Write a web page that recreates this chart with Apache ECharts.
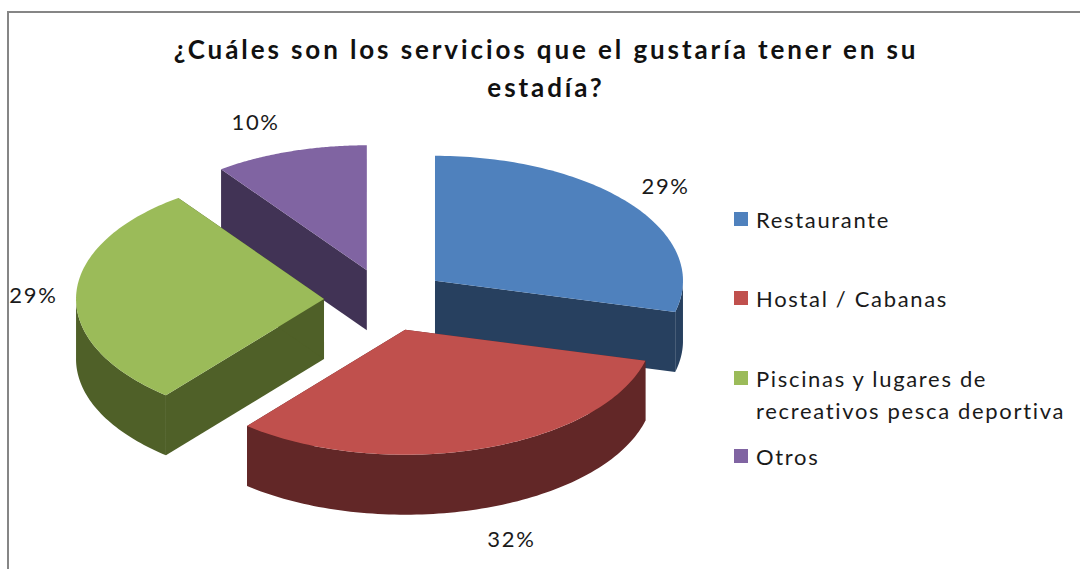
<!DOCTYPE html>
<html><head><meta charset="utf-8">
<style>html,body{margin:0;padding:0;background:#fff}#c{width:1080px;height:569px;letter-spacing:1.67px}
#c text[style*="bold"]{letter-spacing:2.9px}</style>
<script src="https://cdn.jsdelivr.net/npm/echarts@6/dist/echarts.min.js"></script>
</head><body><div id="c"></div>
<script>
const titleText = '¿Cuáles son los servicios que el gustaría tener en su\nestadía?';
const categories = ['Restaurante', 'Hostal / Cabanas', 'Piscinas y lugares de\nrecreativos pesca deportiva', 'Otros'];
const values = [29, 32, 29, 10];
const topColors = ['#4f81bd', '#c0504d', '#9bbb59', '#8064a2'];
const sideColors = ['#27405f', '#622727', '#4f6028', '#413355'];
const drawOrder = [3, 2, 0, 1];
const legendCenters = [220, 299, 379, 457];
const labelNudgeX = [-5, 2, 2, -7];

const CX = 386, CY = 300, RX = 248, RY = 125, DEPTH = 60, EXPLODE = 0.25;
const total = values.reduce((a, b) => a + b, 0);
const font = 'Lato, Carlito, "Open Sans", sans-serif';

function sliceRender(idx) {
  return function (params, api) {
    const before = values.slice(0, idx).reduce((a, b) => a + b, 0);
    const a0 = before / total * 2 * Math.PI;
    const a1 = (before + api.value(0)) / total * 2 * Math.PI;
    const m = (a0 + a1) / 2;
    const ax = CX + RX * EXPLODE * Math.sin(m);
    const ay = CY - RY * EXPLODE * Math.cos(m);
    const pt = (t, d) => [ax + RX * Math.sin(t), ay - RY * Math.cos(t) + d];
    const arc = [];
    const N = 90;
    for (let i = 0; i <= N; i++) arc.push(a0 + (a1 - a0) * i / N);
    const fill = sideColors[idx];
    const children = [];
    const face = (t) => ({ type: 'polygon', shape: { points: [[ax, ay], pt(t, 0), pt(t, DEPTH), [ax, ay + DEPTH]] }, style: { fill } });
    children.push(face(a0), face(a1));
    const low = arc.filter(t => Math.cos(t) <= 0.02);
    if (low.length > 1) {
      children.push({ type: 'polygon', shape: { points: low.map(t => pt(t, 0)).concat(low.slice().reverse().map(t => pt(t, DEPTH))) }, style: { fill } });
    }
    children.push({ type: 'polygon', shape: { points: [[ax, ay]].concat(arc.map(t => pt(t, 0))) }, style: { fill: topColors[idx] } });
    const sx = Math.sin(m), cy = Math.cos(m);
    children.push({
      type: 'text',
      style: {
        x: ax + RX * 1.1 * sx + 20 * Math.sign(sx) + labelNudgeX[idx],
        y: ay - RY * 1.25 * cy + (cy < 0 ? DEPTH : 0),
        text: api.value(0) + '%',
        align: 'center', verticalAlign: 'middle',
        font: '22px ' + font, fill: '#1a1a1a'
      }
    });
    return { type: 'group', children };
  };
}

const chart = echarts.init(document.getElementById('c'), null, { renderer: 'svg' });
chart.setOption({
  animation: false,
  backgroundColor: '#fff',
  title: {
    text: titleText, left: 541, top: 25, textAlign: 'center',
    textStyle: { fontFamily: font, fontSize: 26, fontWeight: 'bold', color: '#111', lineHeight: 38 }
  },
  graphic: [{
    type: 'rect', silent: true, z: -1,
    shape: { x: 8, y: 12, width: 1200, height: 700 },
    style: { fill: 'none', stroke: '#868686', lineWidth: 2 }
  }],
  legend: categories.map((name, i) => {
    const two = name.includes('\n');
    const lh = two ? 32 : 34;
    return {
      data: [name], orient: 'vertical', left: 734,
      top: legendCenters[i] - (two ? lh * 1.5 : lh / 2) - 1,
      padding: 0, itemWidth: 14, itemHeight: 14, itemGap: 0,
      selectedMode: false, icon: 'rect',
      formatter: n => (n.includes('\n') ? '\n' : '') + n,
      textStyle: { fontFamily: font, fontSize: 22, color: '#1a1a1a', lineHeight: lh, padding: [0, 0, 0, 3] }
    };
  }),
  series: drawOrder.map(i => ({
    type: 'custom', name: categories[i], coordinateSystem: 'none',
    z: 2 + drawOrder.indexOf(i), silent: true,
    itemStyle: { color: topColors[i] },
    renderItem: sliceRender(i),
    data: [[values[i]]]
  }))
});
</script></body></html>
